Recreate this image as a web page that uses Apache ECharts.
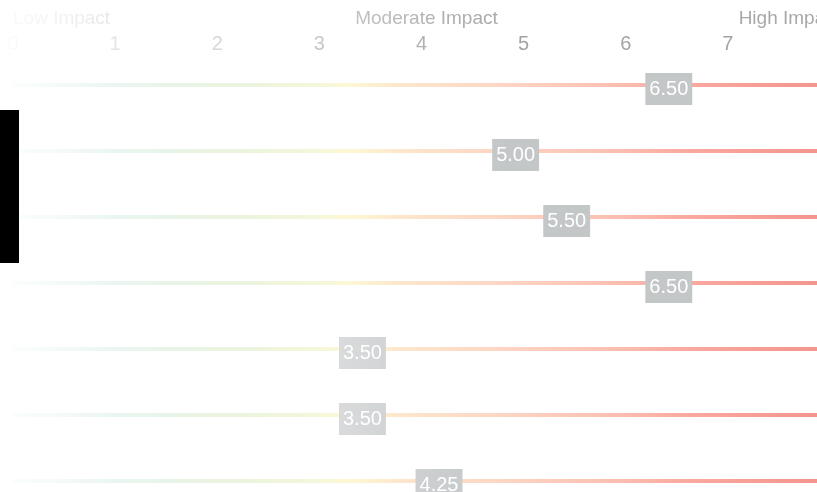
<!DOCTYPE html>
<html>
<head>
<meta charset="utf-8">
<script src="https://cdn.jsdelivr.net/npm/echarts@6/dist/echarts.min.js"></script>
<style>
html,body{margin:0;padding:0;background:#ffffff;}
#chart{width:817px;height:492px;}
</style>
</head>
<body>
<div id="chart"></div>
<script>
// ---- data ----
const categories = ['Item 1', 'Item 2', 'Item 3', 'Item 4', 'Item 5', 'Item 6', 'Item 7'];
const impactScores = [6.50, 5.00, 5.50, 6.50, 3.50, 3.50, 4.25];
const scaleMin = 0;
const scaleMax = 8;
const bandLabels = ['Low Impact', 'Moderate Impact', 'High Impact'];

// ---- styling ----
const FONT = 'Liberation Sans, Arial, sans-serif';
function trackGradient() {
  return new echarts.graphic.LinearGradient(0, 0, 830, 0, [
    { offset: 0.00, color: '#b4dfe8' },
    { offset: 0.14, color: '#b6dccb' },
    { offset: 0.26, color: '#cfe6b8' },
    { offset: 0.38, color: '#ecf2c2' },
    { offset: 0.42, color: '#fcf4c0' },
    { offset: 0.48, color: '#fce0c0' },
    { offset: 0.60, color: '#fdd6c3' },
    { offset: 0.72, color: '#fcc3b5' },
    { offset: 0.84, color: '#f9a79d' },
    { offset: 0.96, color: '#f5988f' },
    { offset: 1.00, color: '#f4948c' }
  ], true);
}

const chart = echarts.init(document.getElementById('chart'), null, { renderer: 'canvas' });

const option = {
  animation: false,
  backgroundColor: '#ffffff',
  grid: [
    { left: 13, right: -13, top: 52, bottom: -22, containLabel: false, outerBoundsMode: 'none' },
    { left: 13, right: -23, top: 52, bottom: -22, containLabel: false, outerBoundsMode: 'none' }
  ],
  xAxis: [
    {
      gridIndex: 0,
      type: 'value', position: 'top', min: scaleMin, max: scaleMax, interval: 1,
      axisLine: { show: false }, axisTick: { show: false }, splitLine: { show: false },
      axisLabel: { fontSize: 20, color: '#a4a4a4', margin: -2, fontFamily: FONT }
    },
    {
      gridIndex: 1,
      type: 'value', position: 'top', min: 0, max: bandLabels.length - 1, interval: 1,
      offset: 24,
      axisLine: { show: false }, axisTick: { show: false }, splitLine: { show: false },
      axisLabel: {
        fontSize: 19, color: '#a8a8a8', margin: 0, fontFamily: FONT,
        alignMinLabel: 'left', alignMaxLabel: 'right',
        formatter: function (v) { return bandLabels[Math.round(v)]; }
      }
    }
  ],
  yAxis: [
    { gridIndex: 0, type: 'category', inverse: true, data: categories, show: false },
    { gridIndex: 1, type: 'value', show: false }
  ],
  series: [
    {
      type: 'bar',
      xAxisIndex: 0,
      yAxisIndex: 0,
      data: impactScores,
      barWidth: 4,
      showBackground: true,
      backgroundStyle: { color: trackGradient() },
      itemStyle: { color: trackGradient() },
      label: {
        show: true,
        position: ['100%', '50%'],
        align: 'center',
        verticalAlign: 'middle',
        offset: [-8, 4],
        formatter: function (p) { return Number(p.value).toFixed(2); },
        fontSize: 20,
        lineHeight: 20,
        fontFamily: FONT,
        color: '#ffffff',
        backgroundColor: '#c4c7c8',
        padding: [6, 4]
      }
    }
  ],
  graphic: [
    {
      type: 'rect', silent: true, z: 100,
      shape: { x: 0, y: 0, width: 817, height: 492 },
      style: {
        fill: new echarts.graphic.LinearGradient(0, 0, 1, 0, [
          { offset: 0.00, color: 'rgba(255,255,255,0.96)' },
          { offset: 0.07, color: 'rgba(255,255,255,0.86)' },
          { offset: 0.14, color: 'rgba(255,255,255,0.72)' },
          { offset: 0.27, color: 'rgba(255,255,255,0.56)' },
          { offset: 0.40, color: 'rgba(255,255,255,0.38)' },
          { offset: 0.52, color: 'rgba(255,255,255,0.14)' },
          { offset: 0.62, color: 'rgba(255,255,255,0)' },
          { offset: 1.00, color: 'rgba(255,255,255,0)' }
        ])
      }
    },
    {
      type: 'rect', silent: true, z: 101,
      shape: { x: 0, y: 110, width: 19, height: 153 },
      style: { fill: '#000000' }
    }
  ]
};
chart.setOption(option);
</script>
</body>
</html>
